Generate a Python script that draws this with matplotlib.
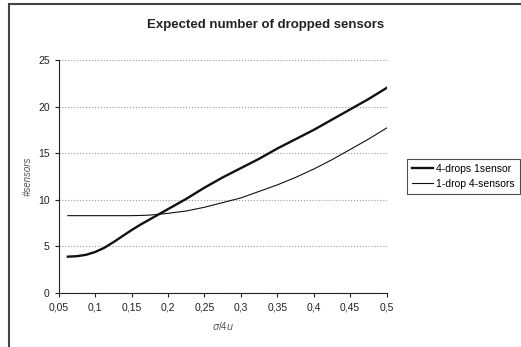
import matplotlib
matplotlib.use("Agg")
from matplotlib import pyplot as plt
from matplotlib.patches import Rectangle

plt.rcParams['font.family'] = ['Liberation Sans', 'DejaVu Sans']

# Data
ratio = [0.0625, 0.075, 0.0875, 0.1, 0.1125, 0.125, 0.1375, 0.15, 0.1625, 0.175,
         0.1875, 0.2, 0.225, 0.25, 0.275, 0.3, 0.325, 0.35, 0.375, 0.4,
         0.425, 0.45, 0.475, 0.5]
four_drops = [3.9, 3.95, 4.1, 4.4, 4.85, 5.45, 6.1, 6.75, 7.35, 7.9,
              8.45, 9.0, 10.1, 11.3, 12.4, 13.4, 14.4, 15.5, 16.5, 17.5,
              18.6, 19.7, 20.8, 22.0]
one_drop = [8.3, 8.3, 8.3, 8.3, 8.3, 8.3, 8.3, 8.3, 8.32, 8.36,
            8.45, 8.55, 8.8, 9.2, 9.7, 10.2, 10.9, 11.6, 12.4, 13.3,
            14.3, 15.4, 16.5, 17.7]
x_ticks = [0.05, 0.1, 0.15, 0.2, 0.25, 0.3, 0.35, 0.4, 0.45, 0.5]
x_tick_labels = ['0,05', '0,1', '0,15', '0,2', '0,25', '0,3', '0,35', '0,4', '0,45', '0,5']
y_ticks = [0, 5, 10, 15, 20, 25]

fig = plt.figure(figsize=(5.21, 3.47), dpi=100)
ax = fig.add_axes([0.1127, 0.1556, 0.6293, 0.6715])

# Outer chart border (only top and left visible in the reference)
fig.patches.append(Rectangle((9 / 521, -0.1), 1.2, 1.1 - 4 / 347, transform=fig.transFigure,
                             fill=False, edgecolor='#444444', linewidth=1.5))

ax.plot(ratio, four_drops, color='#111111', linewidth=1.7, label='4-drops 1sensor')
ax.plot(ratio, one_drop, color='#111111', linewidth=0.8, label='1-drop 4-sensors')

ax.set_xlim(0.05, 0.5)
ax.set_ylim(0, 25)
ax.set_xticks(x_ticks)
ax.set_xticklabels(x_tick_labels)
ax.set_yticks(y_ticks)
ax.tick_params(labelsize=7.5, colors='#222222', length=3, width=0.8)
for s in ['top', 'right']:
    ax.spines[s].set_visible(False)
for s in ['left', 'bottom']:
    ax.spines[s].set_color('#222222')
    ax.spines[s].set_linewidth(0.8)
ax.yaxis.grid(True, linestyle=':', color='#999999', linewidth=0.8)
ax.set_axisbelow(True)

ax.set_xlabel(r'$\sigma$/4$u$', fontsize=7, color='#555555', labelpad=6)
ax.set_ylabel('#sensors', fontsize=7, color='#555555', style='italic', labelpad=4)

fig.text(0.51, 0.928, 'Expected number of dropped sensors', ha='center', va='center',
         fontsize=9.5, fontweight='bold', color='#222222')

leg = ax.legend(loc='center left', bbox_to_anchor=(1.045, 0.5), fontsize=7.5,
                frameon=True, fancybox=False, edgecolor='#222222', handlelength=2.0,
                handletextpad=0.3, borderpad=0.5, labelspacing=0.5)
leg.get_frame().set_linewidth(0.8)

fig.savefig('out.png', dpi=100)
